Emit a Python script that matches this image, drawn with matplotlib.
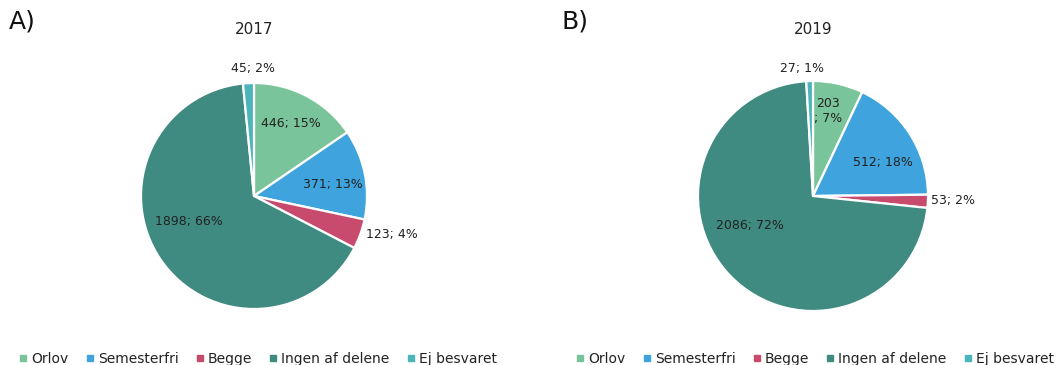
import matplotlib
matplotlib.use("Agg")
import matplotlib.pyplot as plt
from matplotlib.lines import Line2D
import numpy as np

categories = ["Orlov", "Semesterfri", "Begge", "Ingen af delene", "Ej besvaret"]
values_2017 = [446, 371, 123, 1898, 45]
pct_2017 = ["15%", "13%", "4%", "66%", "2%"]
values_2019 = [203, 512, 53, 2086, 27]
pct_2019 = ["7%", "18%", "2%", "72%", "1%"]
colors = ["#7AC49B", "#3FA3DD", "#C84B6D", "#3F8B81", "#4CB4BB"]

W, H = 1057, 365
fig = plt.figure(figsize=(W / 100, H / 100), dpi=100)
plt.rcParams['font.family'] = ['DejaVu Sans']

def add_pie(cx, cy, r, vals, pcts, title, letter, letter_x, label_pos, label_fmt):
    ax = fig.add_axes([(cx - r) / W, 1 - (cy + r) / H, 2 * r / W, 2 * r / H])
    wedges, _ = ax.pie(vals, colors=colors, startangle=90, counterclock=False,
                       wedgeprops=dict(edgecolor="white", linewidth=1.6))
    ax.set_xlim(-1, 1)
    ax.set_ylim(-1, 1)
    ax.set_aspect("equal")
    for i, (v, p) in enumerate(zip(vals, pcts)):
        x, y = label_pos[i]
        ax.text(x, y, label_fmt[i].format(v=v, p=p), ha="center", va="center",
                fontsize=9, color="#222222", clip_on=False)
    fig.text(cx / W, 1 - 30 / H, title, ha="center", va="center", fontsize=11, color="#222222")
    fig.text(letter_x / W, 1 - 22 / H, letter, ha="left", va="center", fontsize=18,
             color="#111111")

pos_2017 = [(0.33, 0.64), (0.70, 0.10), (1.22, -0.34), (-0.58, -0.23), (-0.01, 1.13)]
fmt_2017 = ["{v}; {p}"] * 5
add_pie(254, 196, 113, values_2017, pct_2017, "2017", "A)", 9, pos_2017, fmt_2017)

pos_2019 = [(0.13, 0.74), (0.61, 0.29), (1.22, -0.04), (-0.55, -0.26), (-0.10, 1.11)]
fmt_2019 = ["{v}\n; {p}", "{v}; {p}", "{v}; {p}", "{v}; {p}", "{v}; {p}"]
add_pie(813, 196, 115, values_2019, pct_2019, "2019", "B)", 562, pos_2019, fmt_2019)

handles = [Line2D([0], [0], marker="s", linestyle="", markersize=5,
                  markerfacecolor=c, markeredgecolor=c) for c in colors]
for x0 in (258, 815):
    fig.legend(handles, categories, loc="center", bbox_to_anchor=(x0 / W, 1 - 359 / H),
               ncol=5, frameon=False, fontsize=10, handlelength=0.6, handletextpad=0.3,
               columnspacing=1.2, labelcolor="#222222")

fig.savefig("out.png", dpi=100)
